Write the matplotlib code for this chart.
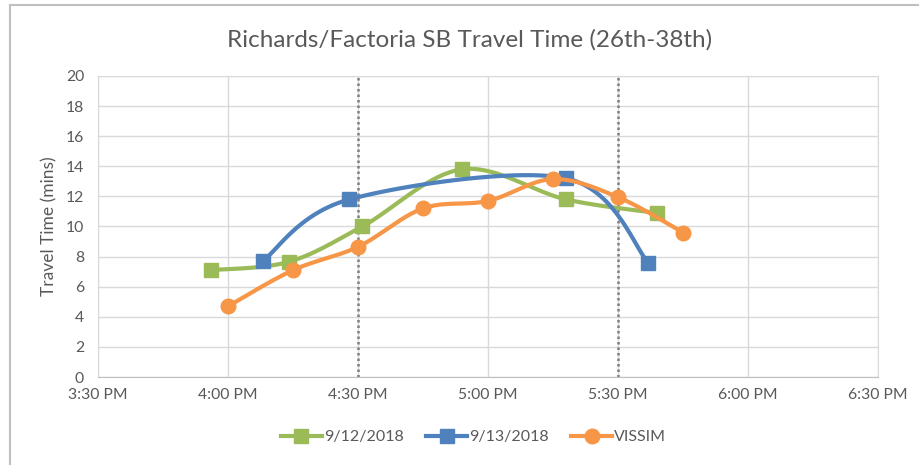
import numpy as np
import matplotlib
matplotlib.use("Agg")
import matplotlib.pyplot as plt
from matplotlib.lines import Line2D

# ---- data ----
tick_labels = ["3:30 PM", "4:00 PM", "4:30 PM", "5:00 PM", "5:30 PM", "6:00 PM", "6:30 PM"]
tick_times = ["15:30", "16:00", "16:30", "17:00", "17:30", "18:00", "18:30"]

s1_name = "9/12/2018"
s1_times = ["15:56", "16:14", "16:31", "16:54", "17:18", "17:39"]
s1_vals = [7.1, 7.65, 10.0, 13.8, 11.8, 10.9]

s2_name = "9/13/2018"
s2_times = ["16:08", "16:28", "17:18", "17:37"]
s2_vals = [7.7, 11.8, 13.2, 7.6]

s3_name = "VISSIM"
s3_times = ["16:00", "16:15", "16:30", "16:45", "17:00", "17:15", "17:30", "17:45"]
s3_vals = [4.7, 7.1, 8.65, 11.2, 11.7, 13.15, 11.95, 9.6]

vlines_times = ["16:30", "17:30"]


def to_min(t):
    h, m = t.split(":")
    return int(h) * 60 + int(m)


def smooth(xs, ys, n=40):
    x = np.asarray(xs, float)
    y = np.asarray(ys, float)
    px = np.concatenate([[x[0]], x, [x[-1]]])
    py = np.concatenate([[y[0]], y, [y[-1]]])
    ox, oy = [], []
    for i in range(1, len(px) - 2):
        p0 = np.array([px[i], py[i]])
        p3 = np.array([px[i + 1], py[i + 1]])
        c1 = p0 + (np.array([px[i + 1], py[i + 1]]) - np.array([px[i - 1], py[i - 1]])) / 6.0
        c2 = p3 - (np.array([px[i + 2], py[i + 2]]) - np.array([px[i], py[i]])) / 6.0
        t = np.linspace(0, 1, n)[:, None]
        b = ((1 - t) ** 3) * p0 + 3 * ((1 - t) ** 2) * t * c1 + 3 * (1 - t) * t ** 2 * c2 + t ** 3 * p3
        ox.extend(b[:, 0])
        oy.extend(b[:, 1])
    return np.array(ox), np.array(oy)


plt.rcParams['font.family'] = ['Lato', 'DejaVu Sans']

fig = plt.figure(figsize=(9.19, 4.65), dpi=100)
ax = fig.add_axes([98 / 919, 1 - 377 / 465, 780 / 919, 301 / 465])

grid_c = "#D9D9D9"
txt_c = "#595959"

xt = [to_min(t) for t in tick_times]
ax.set_xlim(xt[0], xt[-1])
ax.set_ylim(0, 20)
ax.set_xticks(xt)
ax.set_xticklabels(tick_labels)
ax.set_yticks(np.arange(0, 21, 2))
ax.grid(True, color=grid_c, lw=1)
ax.set_axisbelow(True)
for s in ["top", "right", "left"]:
    ax.spines[s].set_color(grid_c)
ax.spines["bottom"].set_color("#BFBFBF")
ax.tick_params(length=0, colors=txt_c, labelsize=11.3, pad=8)
ax.tick_params(axis="y", pad=10)

for vt in vlines_times:
    ax.axvline(to_min(vt), color="#7F7F7F", lw=1.8, ls=(0, (1, 1.2)), zorder=2)

series = [
    (s1_name, s1_times, s1_vals, "#9BBB59", "s", 10.5),
    (s2_name, s2_times, s2_vals, "#4F81BD", "s", 10.5),
    (s3_name, s3_times, s3_vals, "#F79646", "o", 10.5),
]
handles = []
for i, (name, ts, vs, c, mk, ms) in enumerate(series):
    xm = [to_min(t) for t in ts]
    sx, sy = smooth(xm, vs)
    ax.plot(sx, sy, color=c, lw=3, solid_capstyle="round", zorder=3 + i)
    ax.plot(xm, vs, ls="none", marker=mk, ms=ms, color=c, mec=c, zorder=3 + i)
    handles.append(Line2D([0], [0], color=c, lw=3, marker=mk, ms=ms, mec=c, label=name))

ax.set_ylabel("Travel Time (mins)", color=txt_c, fontsize=12.5, labelpad=6)

fig.suptitle("Richards/Factoria SB Travel Time (26th-38th)", x=0.511, y=1 - 40 / 465,
             va="center", fontsize=17.5, color=txt_c)

leg = fig.legend(handles=handles, loc="center", bbox_to_anchor=(0.515, 1 - 437 / 465), ncol=3,
                 frameon=False, fontsize=11.5, handlelength=2.6, handletextpad=0.1,
                 columnspacing=1.4)
for t in leg.get_texts():
    t.set_color(txt_c)

# figure border (left & top)
fig.add_artist(Line2D([10 / 919, 10 / 919], [0, 1 - 5 / 465], transform=fig.transFigure,
                      color="#BFBFBF", lw=1.5))
fig.add_artist(Line2D([10 / 919, 1], [1 - 5 / 465, 1 - 5 / 465], transform=fig.transFigure,
                      color="#BFBFBF", lw=1.5))

fig.savefig("out.png", dpi=100, facecolor="white")
